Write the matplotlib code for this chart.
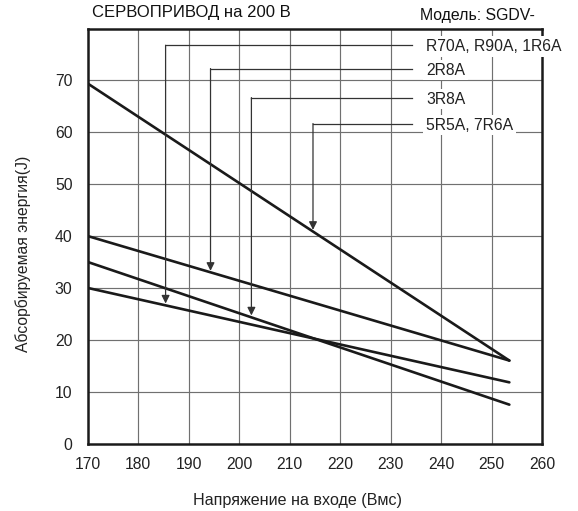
import matplotlib
matplotlib.use("Agg")
import matplotlib.pyplot as plt

plt.rcParams['font.family'] = ['Liberation Sans', 'DejaVu Sans']

# Data
x_start, x_end = 170, 253.5
series_names = ["5R5A, 7R6A", "2R8A", "3R8A", "R70A, R90A, 1R6A"]
y_start = [69.4, 40.0, 35.0, 30.0]
y_end = [16.0, 16.0, 7.5, 11.8]

# annotation: label, label y, arrow x, arrow tip y
ann_labels = ["R70A, R90A, 1R6A", "2R8A", "3R8A", "5R5A, 7R6A"]
ann_label_y = [76.8, 72.3, 66.7, 61.7]
ann_x = [185.4, 194.3, 202.4, 214.6]
ann_tip_y = [27.0, 33.3, 24.7, 41.2]
label_line_end = 234.2

xticks = [170, 180, 190, 200, 210, 220, 230, 240, 250, 260]
yticks = [0, 10, 20, 30, 40, 50, 60, 70]

fig = plt.figure(figsize=(5.78, 5.11), dpi=100)
ax = fig.add_axes([0.152, 0.132, 0.786, 0.812])
ax.set_xlim(170, 260)
ax.set_ylim(0, 80)

for g in xticks[1:-1]:
    ax.axvline(g, color='#707070', lw=0.85, zorder=1)
for g in yticks[1:]:
    ax.axhline(g, color='#707070', lw=0.85, zorder=1)

for ys, ye in zip(y_start, y_end):
    ax.plot([x_start, x_end], [ys, ye], color='#1a1a1a', lw=1.9, solid_capstyle='round', zorder=3)

for lab, ly, axx, ty in zip(ann_labels, ann_label_y, ann_x, ann_tip_y):
    ax.plot([axx, label_line_end], [ly, ly], color='#333333', lw=0.9, zorder=4)
    ax.annotate('', xy=(axx, ty), xytext=(axx, ly),
                arrowprops=dict(arrowstyle='-|>', color='#333333', lw=0.9,
                                mutation_scale=12, shrinkA=0, shrinkB=0),
                zorder=4)
    ax.text(237.0, ly - 0.3, lab, fontsize=11.3, va='center', ha='left',
            color='#222222', zorder=5, clip_on=False,
            bbox=dict(facecolor='white', edgecolor='none', pad=2.0))

ax.set_xticks(xticks)
ax.set_yticks(yticks)
ax.tick_params(length=0, labelsize=11.3, colors='#222222')
ax.tick_params(axis='x', pad=10)
ax.tick_params(axis='y', pad=11)
for sp in ax.spines.values():
    sp.set_linewidth(1.8)
    sp.set_color('#1a1a1a')

fig.text(0.515, 0.0215, "Напряжение на входе (Вмс)", fontsize=11.6, va='center', ha='center', color='#222222')
fig.text(0.040, 0.503, "Абсорбируемая энергия(J)", fontsize=11.3, va='center', ha='center',
         rotation=90, color='#222222')

fig.text(0.159, 0.9755, "СЕРВОПРИВОД на 200 В", fontsize=12, va='center', ha='left', color='#111111')
fig.text(0.926, 0.9706, "Модель: SGDV-", fontsize=11.4, va='center', ha='right', color='#111111')

fig.savefig("out.png", dpi=100)
